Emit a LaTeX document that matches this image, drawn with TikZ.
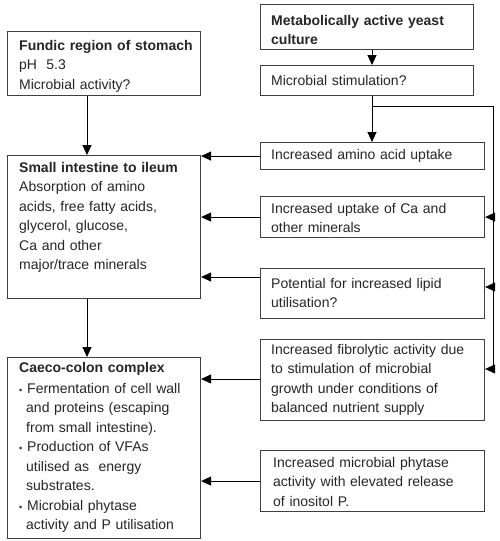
\documentclass[tikz,border=0pt]{standalone}
\usepackage{fontspec}
\setmainfont{Liberation Sans}
\usetikzlibrary{arrows.meta,calc}
\begin{document}
\begin{tikzpicture}[x=1pt,y=-1pt,
  box/.style={draw=black!75,line width=1.1pt,rectangle,inner sep=0pt,anchor=north west},
  txt/.style={anchor=base west,inner sep=0pt,text width=220pt,align=left,text=black!85,
    font=\fontsize{14}{19.5}\selectfont},
  arr/.style={draw=black,line width=0.9pt,-{Triangle[length=10pt,width=9pt]}},
  ln/.style={draw=black,line width=0.9pt}]
\useasboundingbox[fill=white] (0,0) rectangle (500,541);
% boxes
\node[box,minimum width=193pt,minimum height=64pt] (fundic) at (7,31) {};
\node[box,minimum width=213pt,minimum height=45pt] (meta) at (260,4) {};
\node[box,minimum width=213pt,minimum height=30pt] (stim) at (260,65) {};
\node[box,minimum width=224pt,minimum height=27pt] (amino) at (260,142) {};
\node[box,minimum width=193pt,minimum height=143pt] (small) at (7,155) {};
\node[box,minimum width=224pt,minimum height=41pt] (ca) at (260,196) {};
\node[box,minimum width=224pt,minimum height=50pt] (lipid) at (260,268) {};
\node[box,minimum width=224pt,minimum height=81pt] (fibro) at (260,339) {};
\node[box,minimum width=193pt,minimum height=181pt] (caeco) at (7,357) {};
\node[box,minimum width=224pt,minimum height=61pt] (phyt) at (260,450) {};
% texts
\node[txt] (fundic-t) at (19,50) {\textbf{Fundic region of stomach}\\pH\ \ 5.3\\Microbial activity?};
\node[txt] (meta-t) at (271,25) {\textbf{Metabolically active yeast}\\\textbf{culture}};
\node[txt] (stim-t) at (271,85) {Microbial stimulation?};
\node[txt] (amino-t) at (271,159) {Increased amino acid uptake};
\node[txt] (small-t) at (19,172) {\textbf{Small intestine to ileum}\\Absorption of amino\\acids, free fatty acids,\\glycerol, glucose,\\Ca and other\\major/trace minerals};
\node[txt] (ca-t) at (271,213) {Increased uptake of Ca and\\other minerals};
\node[txt] (lipid-t) at (271,288) {Potential for increased lipid\\utilisation?};
\node[txt] (fibro-t) at (271,354) {Increased fibrolytic activity due\\to stimulation of microbial\\growth under conditions of\\balanced nutrient supply};
\node[txt] (caeco-t) at (19,372) {\textbf{Caeco-colon complex}\\[1.5pt]
\makebox[8pt][l]{\fontsize{9}{9}\selectfont •}Fermentation of cell wall\\
\hspace*{7pt}and proteins (escaping\\
\hspace*{7pt}from small intestine).\\
\makebox[8pt][l]{\fontsize{9}{9}\selectfont •}Production of VFAs\\
\hspace*{7pt}utilised as\ \ energy\\
\hspace*{7pt}substrates.\\
\makebox[8pt][l]{\fontsize{9}{9}\selectfont •}Microbial phytase\\
\hspace*{7pt}activity and P utilisation};
\node[txt] (phyt-t) at (273,467) {Increased microbial phytase\\activity with elevated release\\of inositol P.};
% helper coordinates
\coordinate (sx) at (372,0);
\coordinate (fx) at (87,0);
\coordinate (br) at (372,106);
\coordinate (rt) at (493,106);
\coordinate (rb) at (493,369);
% connectors
\draw[arr] (meta.south -| sx) -- (stim.north -| sx);
\draw[arr] (stim.south -| sx) -- (amino.north -| sx);
\draw[ln] (br) -- (rt) -- (rb);
\draw[arr] (rt |- ca.east) -- (ca.east);
\draw[arr] (493,287) -- (lipid.east |- 0,287);
\draw[arr] (rb) -- (fibro.east |- rb);
\draw[arr] (fundic.south -| fx) -- (small.north -| fx);
\draw[arr] (small.south -| fx) -- (caeco.north -| fx);
\draw[arr] (amino.west) -- (small.east |- amino.west);
\draw[arr] (ca.west) -- (small.east |- ca.west);
\draw[arr] (lipid.west |- 0,277) -- (small.east |- 0,277);
\draw[arr] (fibro.west |- 0,379) -- (caeco.east |- 0,379);
\draw[arr] (phyt.west) -- (caeco.east |- phyt.west);
\end{tikzpicture}
\end{document}
